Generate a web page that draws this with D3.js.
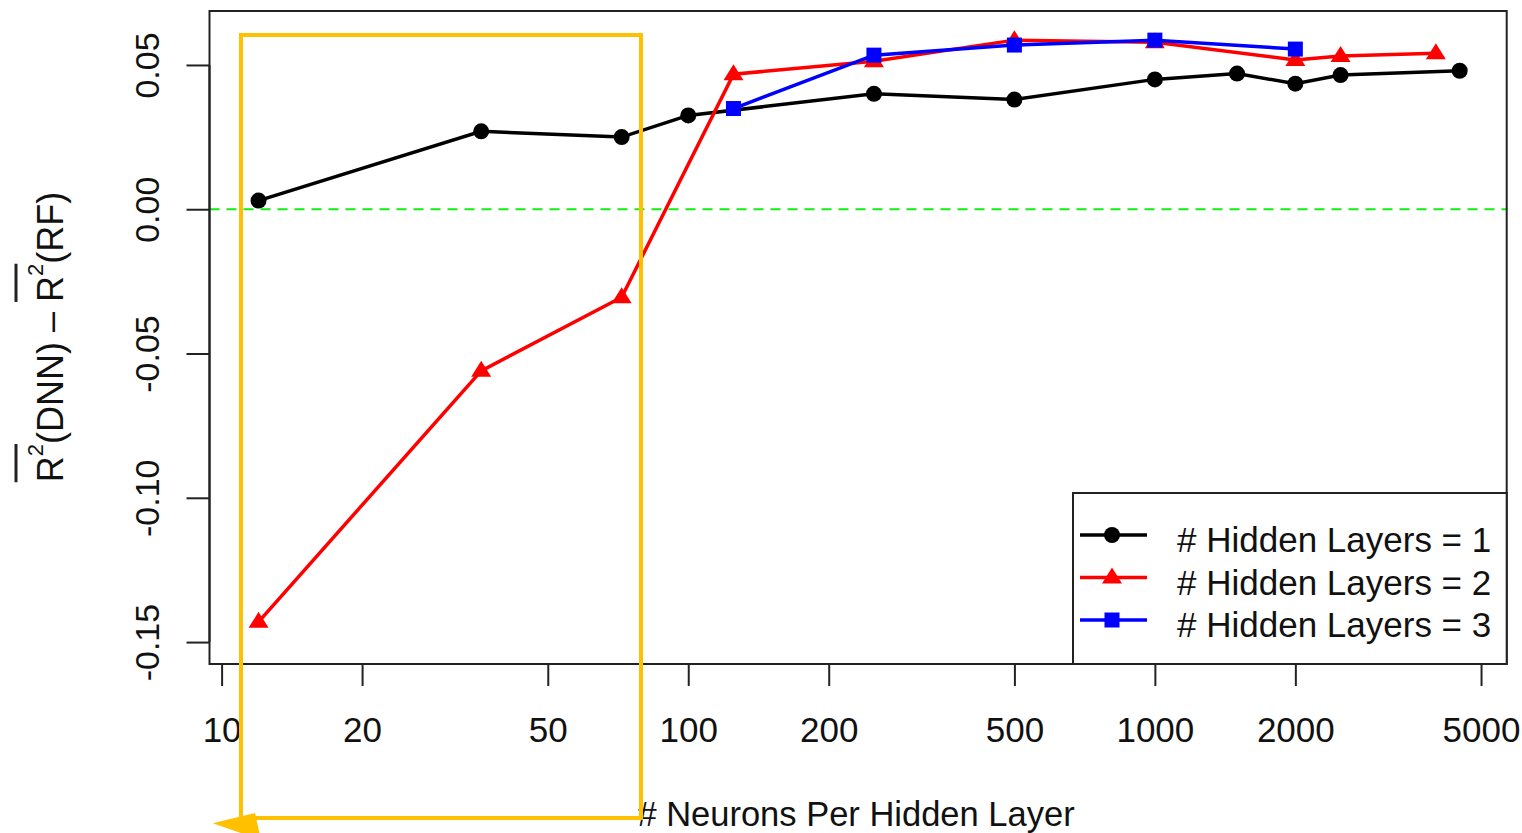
<!DOCTYPE html>
<html>
<head>
<meta charset="utf-8">
<script src="https://cdn.jsdelivr.net/npm/d3@7"></script>
<style>
  html, body { margin: 0; padding: 0; background: #fff; }
  svg { display: block; }
  text { font-family: "Liberation Sans", Arial, sans-serif; fill: #111; }
</style>
</head>
<body>
<svg id="chart" width="1522" height="833"></svg>
<script>
// ---- data ----
const xTicks = [10, 20, 50, 100, 200, 500, 1000, 2000, 5000];
const yTicks = [-0.15, -0.10, -0.05, 0.00, 0.05];
const yTickLabels = ["-0.15", "-0.10", "-0.05", "0.00", "0.05"];

const neurons1 = [12, 36, 72, 100, 250, 500, 1000, 1500, 2000, 2500, 4500];
const diff1    = [0.003, 0.027, 0.025, 0.0325, 0.040, 0.038, 0.045, 0.047, 0.0435, 0.0465, 0.048];

const neurons2 = [12, 36, 72, 125, 250, 500, 1000, 2000, 2500, 4000];
const diff2    = [-0.143, -0.056, -0.0305, 0.0468, 0.0513, 0.0586, 0.0579, 0.0517, 0.0531, 0.0541];

const neurons3 = [125, 250, 500, 1000, 2000];
const diff3    = [0.0349, 0.0534, 0.0569, 0.0586, 0.0555];

const legendLabels = ["# Hidden Layers = 1", "# Hidden Layers = 2", "# Hidden Layers = 3"];
const seriesColors = ["#000000", "#ff0000", "#0000ff"];
const seriesShapes = ["circle", "triangle", "square"];
const xTitle = "# Neurons Per Hidden Layer";

// ---- layout ----
const svg = d3.select("#chart");
const L = 209.5, R = 1506.7, T = 11, B = 664;
const x = d3.scaleLog().domain([9.42, 5675]).range([L, R]);
const y = d3.scaleLinear().domain([-0.1576, 0.0687]).range([B, T]);

// reference line at 0
svg.append("line")
  .attr("x1", L).attr("x2", R).attr("y1", y(0)).attr("y2", y(0))
  .attr("stroke", "#11ee11").attr("stroke-width", 2)
  .attr("stroke-dasharray", "10,7");

// axes
const xAxis = d3.axisBottom(x).tickValues(xTicks).tickFormat(d3.format("d"))
  .tickSize(22).tickPadding(0);
const gx = svg.append("g").attr("transform", `translate(0,${B})`).call(xAxis);
gx.select(".domain").attr("stroke", "#222").attr("stroke-width", 2)
  .attr("d", `M${x(xTicks[0])},0H${x(xTicks[xTicks.length-1])}`);
gx.selectAll(".tick line").attr("stroke", "#222").attr("stroke-width", 2);
gx.selectAll(".tick text").attr("y", 78).attr("dy", 0)
  .style("font-size", "35px").attr("fill", "#111");

const yAxis = d3.axisLeft(y).tickValues(yTicks)
  .tickFormat((d, i) => yTickLabels[i]).tickSize(23);
const gy = svg.append("g").attr("transform", `translate(${L},0)`).call(yAxis);
gy.select(".domain").attr("stroke", "#222").attr("stroke-width", 2)
  .attr("d", `M0,${y(yTicks[0])}V${y(yTicks[yTicks.length-1])}`);
gy.selectAll(".tick line").attr("stroke", "#222").attr("stroke-width", 2);
gy.selectAll(".tick text")
  .attr("x", null).attr("dy", null)
  .attr("transform", "translate(-51,0) rotate(-90)")
  .attr("text-anchor", "middle")
  .style("font-size", "34px").attr("fill", "#111");

// plot box
svg.append("rect").attr("x", L).attr("y", T).attr("width", R - L).attr("height", B - T)
  .attr("fill", "none").attr("stroke", "#222").attr("stroke-width", 2);

// markers
function drawMarker(g, shape, color, cx, cy) {
  if (shape === "circle") {
    g.append("circle").attr("cx", cx).attr("cy", cy).attr("r", 8).attr("fill", color);
  } else if (shape === "triangle") {
    const s = 10;
    g.append("path")
      .attr("d", `M${cx},${cy - s}L${cx + s},${cy + s * 0.6}L${cx - s},${cy + s * 0.6}Z`)
      .attr("fill", color);
  } else {
    g.append("rect").attr("x", cx - 7.5).attr("y", cy - 7.5).attr("width", 15).attr("height", 15)
      .attr("fill", color);
  }
}

const series = [
  { xs: neurons1, ys: diff1 },
  { xs: neurons2, ys: diff2 },
  { xs: neurons3, ys: diff3 }
];
const line = d3.line().x(d => x(d[0])).y(d => y(d[1]));
series.forEach((s, i) => {
  const pts = s.xs.map((v, j) => [v, s.ys[j]]);
  const g = svg.append("g");
  g.append("path").attr("d", line(pts)).attr("fill", "none")
    .attr("stroke", seriesColors[i]).attr("stroke-width", 3.5);
  pts.forEach(p => drawMarker(g, seriesShapes[i], seriesColors[i], x(p[0]), y(p[1])));
});

// legend
const lg = svg.append("g");
lg.append("rect").attr("x", 1073).attr("y", 493).attr("width", R - 1073).attr("height", B - 493)
  .attr("fill", "#fff").attr("stroke", "#222").attr("stroke-width", 2);
legendLabels.forEach((lab, i) => {
  const ly = 535 + i * 42.5;
  lg.append("line").attr("x1", 1080).attr("x2", 1147).attr("y1", ly).attr("y2", ly)
    .attr("stroke", seriesColors[i]).attr("stroke-width", 3.5);
  drawMarker(lg, seriesShapes[i], seriesColors[i], 1112, ly);
  lg.append("text").attr("x", 1177).attr("y", ly + 17).text(lab).style("font-size", "35px");
});

// x title
svg.append("text").attr("x", 856).attr("y", 826).attr("text-anchor", "middle")
  .style("font-size", "34.5px").text(xTitle);

// y title with overlines
const yt = svg.append("g").attr("transform", "translate(63,337) rotate(-90)");
const tt = yt.append("text").attr("text-anchor", "middle").style("font-size", "36px");
tt.append("tspan").text("R");
tt.append("tspan").attr("dy", -20).style("font-size", "22px").text("2");
tt.append("tspan").attr("dy", 20).text("(DNN) \u2013 ");
tt.append("tspan").text("R");
tt.append("tspan").attr("dy", -20).style("font-size", "22px").text("2");
tt.append("tspan").attr("dy", 20).text("(RF)");
const node = tt.node();
const full = node.textContent;
[0, full.indexOf("R", 2)].forEach(idx => {
  const a = node.getExtentOfChar(idx);
  const b = node.getExtentOfChar(idx + 1);
  yt.append("line").attr("x1", a.x).attr("x2", b.x + b.width)
    .attr("y1", -47).attr("y2", -47).attr("stroke", "#222").attr("stroke-width", 3);
});

// annotation overlay (yellow box + arrow)
const ann = svg.append("g");
ann.append("path")
  .attr("d", "M241,818V35H641V818H250")
  .attr("fill", "none").attr("stroke", "#ffc000").attr("stroke-width", 4)
  .attr("stroke-linejoin", "miter");
ann.append("path")
  .attr("d", "M212.7,823.3L255,813L261,840Z")
  .attr("fill", "#ffc000");
</script>
</body>
</html>
